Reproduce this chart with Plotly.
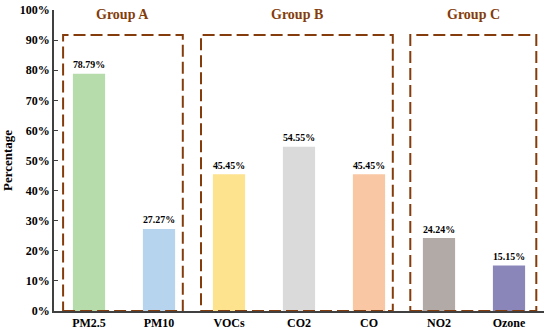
import plotly.graph_objects as go

categories = ["PM2.5", "PM10", "VOCs", "CO2", "CO", "NO2", "Ozone"]
values = [78.79, 27.27, 45.45, 54.55, 45.45, 24.24, 15.15]
bar_colors = ["#b5dcaa", "#b6d4ee", "#fde38e", "#dadada", "#f9c7a3", "#b2aaa7", "#8a86b9"]
groups = ["Group A", "Group B", "Group C"]
group_spans = [(-0.37, 1.34), (1.6, 4.34), (4.59, 6.39)]
group_top = 91.7
y_ticks = list(range(0, 101, 10))

font_fam = "Liberation Serif, Times New Roman, serif"
brown = "#843c0c"

fig = go.Figure()
fig.add_trace(go.Bar(
    x=list(range(len(categories))), y=values,
    marker=dict(color=bar_colors, line=dict(width=0)),
    width=0.46,
    text=[f"<b>{v:.2f}%</b>" for v in values],
    textposition="outside", cliponaxis=False,
    textfont=dict(family=font_fam, size=12, color="black"),
))

shapes = []
for (x0, x1) in group_spans:
    shapes.append(dict(type="rect", xref="x", yref="y", x0=x0, x1=x1, y0=0, y1=group_top,
                       line=dict(color=brown, width=2, dash="12px,5px"), fillcolor="rgba(0,0,0,0)"))
annotations = []
for g, (x0, x1) in zip(groups, group_spans):
    annotations.append(dict(x=(x0 + x1) / 2, y=98.5, xref="x", yref="y", text=f"<b>{g}</b>",
                            showarrow=False, font=dict(family=font_fam, size=14, color=brown)))

fig.update_layout(
    width=550, height=334,
    margin=dict(l=54, r=6, t=10, b=23),
    plot_bgcolor="white", paper_bgcolor="white",
    showlegend=False,
    shapes=shapes, annotations=annotations,
    xaxis=dict(range=[-0.5, 6.5], tickmode="array", tickvals=list(range(len(categories))),
               ticktext=[f"<b>{c}</b>" for c in categories], automargin=False,
               showline=True, linecolor="#404040", linewidth=1.5, ticks="",
               tickfont=dict(family=font_fam, size=12, color="black"), showgrid=False, zeroline=False),
    yaxis=dict(range=[0, 100], tickmode="array", tickvals=y_ticks, automargin=False,
               ticktext=[f"<b>{t}%</b>" for t in y_ticks],
               showline=True, linecolor="#404040", linewidth=1.5, ticks="inside", ticklen=4,
               tickcolor="#404040", showgrid=False, zeroline=False,
               tickfont=dict(family=font_fam, size=12, color="black"),
               title=dict(text="<b>Percentage</b>", font=dict(family=font_fam, size=13, color="black"), standoff=8)),
)

fig.write_html("out.html", config={"displayModeBar": False},
               post_script="document.body.style.margin='0';document.body.style.overflow='hidden';")
